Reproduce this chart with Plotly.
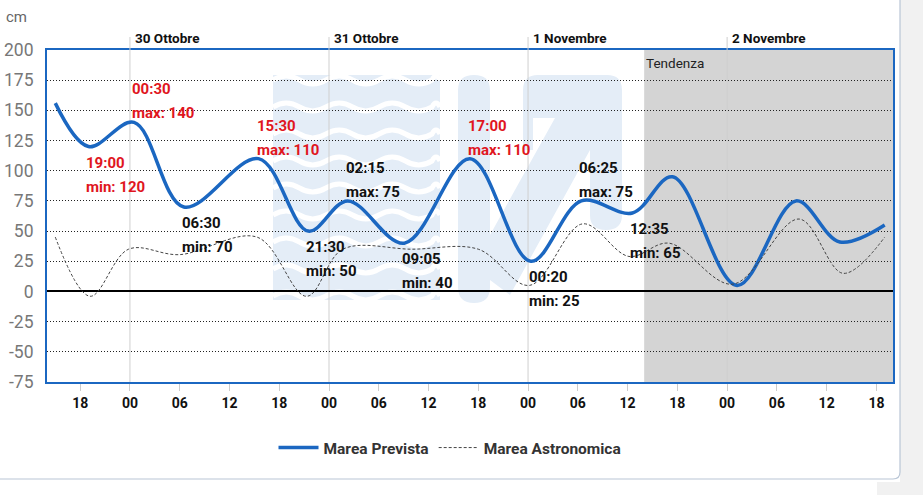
import plotly.graph_objects as go

# ---------------- data ----------------
prev_times = ["2023-10-29 15:00", "2023-10-29 19:00", "2023-10-30 00:30", "2023-10-30 06:30",
              "2023-10-30 15:30", "2023-10-30 21:30", "2023-10-31 02:15", "2023-10-31 09:05",
              "2023-10-31 17:00", "2023-11-01 00:20", "2023-11-01 06:25", "2023-11-01 12:35",
              "2023-11-01 17:25", "2023-11-02 01:12", "2023-11-02 08:18", "2023-11-02 13:35",
              "2023-11-02 19:00"]
prev_values = [156, 120, 140, 70, 110, 50, 75, 40, 110, 25, 75, 65, 95, 5, 75, 41, 55]

astro_times = ["2023-10-29 15:00", "2023-10-29 19:12", "2023-10-29 23:50", "2023-10-30 06:00",
               "2023-10-30 15:20", "2023-10-30 21:18", "2023-10-31 01:40", "2023-10-31 10:00",
               "2023-10-31 18:00", "2023-11-01 00:10", "2023-11-01 06:35", "2023-11-01 12:10",
               "2023-11-01 17:00", "2023-11-02 00:40", "2023-11-02 08:40", "2023-11-02 14:00",
               "2023-11-02 19:00"]
astro_values = [45, -4, 35, 30.5, 45, -4, 35, 35, 35, 5, 56, 29, 40, 6, 60, 15, 45]

ext_times = ["2023-10-29 19:00", "2023-10-30 00:30", "2023-10-30 06:30", "2023-10-30 15:30",
             "2023-10-30 21:30", "2023-10-31 02:15", "2023-10-31 09:05", "2023-10-31 17:00",
             "2023-11-01 00:20", "2023-11-01 06:25", "2023-11-01 12:35"]
ext_values = [120, 140, 70, 110, 50, 75, 40, 110, 25, 75, 65]
ext_kinds = ["min", "max", "min", "max", "min", "max", "min", "max", "min", "max", "min"]

day_dates = ["2023-10-30", "2023-10-31", "2023-11-01", "2023-11-02"]
day_labels = ["30 Ottobre", "31 Ottobre", "1 Novembre", "2 Novembre"]

y_ticks = [-75, -50, -25, 0, 25, 50, 75, 100, 125, 150, 175, 200]
y_tick_labels = [str(v) for v in y_ticks]
trend_start = "2023-11-01 14:00"
x_range = ["2023-10-29 14:00", "2023-11-02 20:00"]

# ---------------- styling ----------------
FONT = "Roboto, sans-serif"
BLUE = "#1b67c1"
RED = "#e0161e"
PALE = "#e4edf7"

W, H = 923, 495
PL, PR, PT, PB = 47, 893, 50, 382


def px(x):
    return (x - PL) / (PR - PL)


def py(y):
    return (PB - y) / (PB - PT)


fig = go.Figure()

fig.add_trace(go.Scatter(
    x=prev_times, y=prev_values, mode="lines", name="Marea Prevista",
    line=dict(color=BLUE, width=3.5, shape="spline", smoothing=1.0),
    hoverinfo="skip"))
fig.add_trace(go.Scatter(
    x=astro_times, y=astro_values, mode="lines", name="Marea Astronomica",
    line=dict(color="#444444", width=1, dash="3px,2px", shape="spline", smoothing=1.0),
    hoverinfo="skip"))

shapes = []

# outer card / page background
shapes.append(dict(type="rect", xref="paper", yref="paper", x0=px(900), x1=px(923), y0=py(495), y1=py(0),
                   fillcolor="#f1f1f1", line=dict(width=0), layer="below"))
shapes.append(dict(type="rect", xref="paper", yref="paper", x0=px(877), x1=px(923), y0=py(495), y1=py(482),
                   fillcolor="#f1f1f1", line=dict(width=0), layer="below"))
card = (f"M {px(-2)},{py(479)} L {px(893)},{py(479)} Q {px(900)},{py(479)} {px(900)},{py(472)} "
        f"L {px(900)},{py(-2)}")
shapes.append(dict(type="path", xref="paper", yref="paper", path=card,
                   line=dict(color="#b9c6d6", width=1.2), layer="below"))

# watermark: wave block
shapes.append(dict(type="rect", xref="paper", yref="paper", x0=px(273), x1=px(440), y0=py(300), y1=py(75),
                   fillcolor=PALE, line=dict(width=0), layer="below"))
for k in range(9):
    y0 = 80 + 27 * k
    half = 26.5
    xs = 273
    d = f"M {px(xs)},{py(y0)}"
    up = True
    while xs < 440:
        xe = min(xs + half, 440)
        cy = y0 - 8 if up else y0 + 8
        d += f" Q {px((xs + xe) / 2)},{py(cy)} {px(xe)},{py(y0)}"
        xs = xe
        up = not up
    shapes.append(dict(type="path", xref="paper", yref="paper", path=d,
                       line=dict(color="white", width=5), layer="below"))

# watermark: bar + diagonal + top bar + right column
bar = (f"M {px(458)},{py(90)} Q {px(458)},{py(75)} {px(474)},{py(75)} Q {px(490)},{py(75)} {px(490)},{py(90)} "
       f"L {px(490)},{py(287)} Q {px(490)},{py(303)} {px(474)},{py(303)} Q {px(458)},{py(303)} {px(458)},{py(287)} Z")
shapes.append(dict(type="path", xref="paper", yref="paper", path=bar, fillcolor=PALE,
                   line=dict(width=0), layer="below"))
zpath = (f"M {px(523)},{py(90)} Q {px(523)},{py(75)} {px(538)},{py(75)} L {px(607)},{py(75)} "
         f"Q {px(622)},{py(75)} {px(622)},{py(90)} L {px(622)},{py(215)} Q {px(622)},{py(230)} {px(606)},{py(230)} "
         f"Q {px(590)},{py(230)} {px(590)},{py(215)} L {px(590)},{py(150)} L {px(510)},{py(295)} "
         f"L {px(490)},{py(280)} L {px(490)},{py(235)} L {px(555)},{py(118)} L {px(533)},{py(118)} "
         f"L {px(533)},{py(150)} L {px(523)},{py(150)} Z")
shapes.append(dict(type="path", xref="paper", yref="paper", path=zpath, fillcolor=PALE,
                   line=dict(width=0), layer="below"))

# trend shading
shapes.append(dict(type="rect", xref="x", yref="paper", x0=trend_start, x1=x_range[1], y0=0, y1=1,
                   fillcolor="#d4d4d4", line=dict(width=0), layer="below"))

# midnight lines
for d in day_dates:
    shapes.append(dict(type="line", xref="x", yref="paper", x0=d, x1=d, y0=0, y1=1,
                       line=dict(color="#cfcfcf", width=1), layer="below"))
    shapes.append(dict(type="line", xref="x", yref="paper", x0=d, x1=d, y0=1, y1=py(37),
                       line=dict(color="#cfcfcf", width=1), layer="above"))

annotations = []
annotations.append(dict(text="cm", xref="paper", yref="paper", x=px(17), y=py(17), showarrow=False,
                        xanchor="center", yanchor="middle", font=dict(family=FONT, size=15, color="#666")))
for d, lab in zip(day_dates, day_labels):
    annotations.append(dict(text=lab, xref="x", yref="paper", x=d, y=py(38), xshift=3, showarrow=False,
                            xanchor="left", yanchor="middle",
                            font=dict(family=FONT, size=13.5, color="#111", weight="bold")))
annotations.append(dict(text="Tendenza", xref="x", yref="paper", x=trend_start, y=py(63), xshift=0,
                        showarrow=False, xanchor="left", yanchor="middle",
                        font=dict(family=FONT, size=13.5, color="#222")))

for t, v, k in zip(ext_times, ext_values, ext_kinds):
    col = RED if v >= 100 else "#111"
    hh = t.split(" ")[1]
    if k == "max":
        shifts = (33, 9)
    else:
        shifts = (-16, -40)
    for txt, ys in zip([hh, f"{k}: {v}"], shifts):
        annotations.append(dict(text=txt, xref="x", yref="y", x=t, y=v, xshift=-4, yshift=ys,
                                showarrow=False, xanchor="left", yanchor="middle",
                                font=dict(family=FONT, size=15, color=col, weight="bold")))

fig.update_layout(
    width=W, height=H,
    margin=dict(l=PL, r=W - PR, t=PT, b=H - PB),
    paper_bgcolor="white", plot_bgcolor="white",
    showlegend=True,
    legend=dict(orientation="h", x=px(450), xanchor="center", y=py(448), yanchor="middle",
                font=dict(family=FONT, size=15.5, color="#333", weight="bold"),
                itemwidth=40, bgcolor="rgba(0,0,0,0)"),
    shapes=shapes, annotations=annotations,
    font=dict(family=FONT),
)
fig.update_xaxes(
    type="date", range=x_range, dtick=6 * 3600 * 1000, tick0="2023-10-29 00:00", tickformat="%H",
    showgrid=False, ticks="outside", ticklen=7, tickcolor="#cccccc",
    tickfont=dict(family=FONT, size=14, color="#111", weight="bold"),
    showline=True, linecolor=BLUE, linewidth=2, mirror=True, zeroline=False, automargin=False,
)
fig.update_yaxes(
    range=[-75, 200], tickvals=y_ticks, ticktext=y_tick_labels,
    showgrid=True, gridcolor="#222", gridwidth=1, griddash="1px,2px",
    zeroline=True, zerolinecolor="black", zerolinewidth=2,
    tickfont=dict(family=FONT, size=17.5, color="#777"), ticklabelstandoff=8,
    showline=True, linecolor=BLUE, linewidth=2, mirror=True, automargin=False,
)

fig.write_html("out.html")
